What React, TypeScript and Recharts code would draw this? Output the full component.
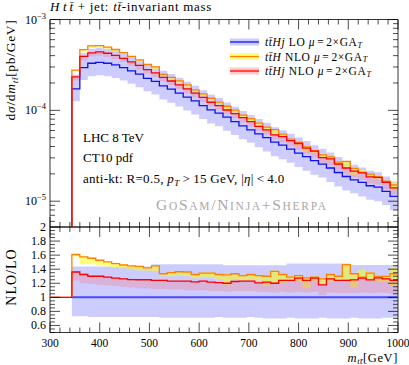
import React from "react";
import { ComposedChart, Line, Area, XAxis, YAxis, ReferenceArea } from "recharts";

const FONT = "'Liberation Serif', 'DejaVu Serif', serif";
const BLUE = "#1010f0";
const ORANGE = "#ff8000";
const RED = "#ff0000";

// plot geometry (px)
const W = 409;
const H = 365;
const LEFT = 50;
const RIGHT = 398;
const TOP1 = 19.5;
const BOT1 = 227;
const BOT2 = 332.5;

const Y_MIN = 5.2e-6;
const Y_MAX = 1e-3;

// bin edges of m_tt [GeV]
const binEdges = [
  344, 360, 376, 392, 408, 424, 440, 456, 472, 488, 504, 520, 536, 552, 568, 584, 600, 616, 632, 648,
  664, 680, 696, 712, 728, 744, 760, 776, 792, 808, 824, 840, 856, 872, 888, 904, 920, 936, 952, 968,
  984, 1000,
];

// ttHj LO, dsigma/dm [pb/GeV]
const loXsec = [
  1.72e-4, 2.96e-4, 3.3e-4, 3.38e-4, 3.3e-4, 3.16e-4, 2.96e-4, 2.72e-4, 2.5e-4, 2.25e-4,
  2.08e-4, 1.86e-4, 1.71e-4, 1.55e-4, 1.4e-4, 1.27e-4, 1.13e-4, 1.01e-4, 9.31e-5, 8.41e-5,
  7.53e-5, 6.76e-5, 6.11e-5, 5.52e-5, 5.02e-5, 4.47e-5, 4.14e-5, 3.74e-5, 3.39e-5, 3.1e-5,
  2.79e-5, 2.56e-5, 2.32e-5, 2.07e-5, 1.87e-5, 1.72e-5, 1.61e-5, 1.48e-5, 1.43e-5, 1.28e-5,
  1.13e-5,
];
const loBandLo = [
  0.73, 0.73, 0.72, 0.72, 0.72, 0.72, 0.72, 0.72, 0.72, 0.72,
  0.72, 0.71, 0.71, 0.71, 0.71, 0.71, 0.71, 0.71, 0.72, 0.71,
  0.71, 0.71, 0.72, 0.71, 0.7, 0.7, 0.7, 0.71, 0.7, 0.7,
  0.7, 0.71, 0.7, 0.7, 0.7, 0.71, 0.7, 0.7, 0.7, 0.71,
  0.71,
];
const loBandHi = [
  1.44, 1.44, 1.44, 1.44, 1.44, 1.44, 1.44, 1.44, 1.44, 1.44,
  1.47, 1.47, 1.47, 1.47, 1.47, 1.47, 1.47, 1.47, 1.47, 1.455,
  1.455, 1.455, 1.455, 1.455, 1.455, 1.455, 1.455, 1.48, 1.48, 1.48,
  1.48, 1.48, 1.48, 1.48, 1.48, 1.46, 1.46, 1.46, 1.46, 1.46,
  1.46,
];

// ttH NLO / LO
const tthRatio = [
  1.609, 1.576, 1.556, 1.527, 1.503, 1.479, 1.46, 1.446, 1.44, 1.42,
  1.446, 1.335, 1.35, 1.364, 1.36, 1.325, 1.345, 1.345, 1.325, 1.32,
  1.335, 1.31, 1.325, 1.31, 1.3, 1.37, 1.325, 1.287, 1.31, 1.278,
  1.287, 1.263, 1.325, 1.3, 1.465, 1.335, 1.287, 1.345, 1.297, 1.297,
  1.335,
];
const tthBandLo = [
  1.58, 1.47, 1.47, 1.45, 1.44, 1.42, 1.41, 1.4, 1.38, 1.38,
  1.37, 1.3, 1.3, 1.31, 1.3, 1.27, 1.28, 1.28, 1.25, 1.18,
  1.26, 1.24, 1.25, 1.24, 1.16, 1.2, 1.2, 1.23, 1.22, 1.13,
  1.22, 1.2, 1.22, 1.22, 1.26, 1.14, 1.27, 1.24, 1.22, 1.22,
  1.17,
];
const tthBandHi = [
  1.62, 1.585, 1.565, 1.535, 1.51, 1.49, 1.47, 1.455, 1.45, 1.43,
  1.455, 1.345, 1.36, 1.375, 1.37, 1.335, 1.355, 1.355, 1.335, 1.33,
  1.345, 1.32, 1.335, 1.32, 1.31, 1.38, 1.335, 1.297, 1.32, 1.29,
  1.297, 1.273, 1.335, 1.31, 1.475, 1.345, 1.39, 1.355, 1.307, 1.307,
  1.43,
];

// ttHj NLO / LO
const tthjRatio = [
  1.36, 1.325, 1.3, 1.3, 1.288, 1.273, 1.263, 1.253, 1.25, 1.25,
  1.24, 1.24, 1.23, 1.23, 1.23, 1.22, 1.23, 1.216, 1.21, 1.2,
  1.225, 1.23, 1.23, 1.206, 1.216, 1.2, 1.24, 1.24, 1.273, 1.24,
  1.273, 1.177, 1.263, 1.24, 1.24, 1.249, 1.273, 1.249, 1.278, 1.263,
  1.24,
];
const tthjBandLo = [
  1.24, 1.2, 1.19, 1.18, 1.17, 1.16, 1.15, 1.14, 1.13, 1.13,
  1.12, 1.12, 1.11, 1.11, 1.1, 1.1, 1.1, 1.09, 1.09, 1.08,
  1.09, 1.09, 1.09, 1.08, 1.08, 1.07, 1.08, 1.07, 1.08, 1.07,
  1.08, 1.03, 1.07, 1.06, 1.06, 1.06, 1.07, 1.06, 1.07, 1.06,
  1.05,
];
const tthjBandHi = [
  1.375, 1.34, 1.315, 1.315, 1.3, 1.285, 1.275, 1.265, 1.26, 1.26,
  1.25, 1.25, 1.24, 1.24, 1.24, 1.23, 1.24, 1.226, 1.22, 1.21,
  1.235, 1.24, 1.24, 1.216, 1.226, 1.21, 1.25, 1.25, 1.283, 1.25,
  1.283, 1.187, 1.273, 1.25, 1.25, 1.259, 1.283, 1.259, 1.288, 1.273,
  1.25,
];

// ticks
const xTicks = [
  300, 320, 340, 360, 380, 400, 420, 440, 460, 480, 500, 520, 540, 560, 580, 600, 620, 640, 660, 680,
  700, 720, 740, 760, 780, 800, 820, 840, 860, 880, 900, 920, 940, 960, 980, 1000,
];
const xLabels = [300, 400, 500, 600, 700, 800, 900, 1000];
const yDecades = [1e-5, 1e-4, 1e-3];
const yDecadeExp = [-5, -4, -3];
const yTicks = [
  6e-6, 7e-6, 8e-6, 9e-6, 1e-5, 2e-5, 3e-5, 4e-5, 5e-5, 6e-5, 7e-5, 8e-5, 9e-5,
  1e-4, 2e-4, 3e-4, 4e-4, 5e-4, 6e-4, 7e-4, 8e-4, 9e-4, 1e-3,
];
const rTicks = [
  0.5, 0.55, 0.6, 0.65, 0.7, 0.75, 0.8, 0.85, 0.9, 0.95, 1, 1.05, 1.1, 1.15, 1.2, 1.25, 1.3, 1.35,
  1.4, 1.45, 1.5, 1.55, 1.6, 1.65, 1.7, 1.75, 1.8, 1.85, 1.9, 1.95, 2,
];
const rLabels = [0.6, 0.8, 1, 1.2, 1.4, 1.6, 1.8, 2];

const TINY = 1e-9;
const n = loXsec.length;

const mainData: any[] = [{ x: 300, lo: TINY, tth: TINY, tthj: TINY }];
const ratioData: any[] = [{ x: 300, tth: 1, tthj: 1 }];
for (let i = 0; i <= n; i++) {
  const k = Math.min(i, n - 1);
  const lo = loXsec[k];
  mainData.push({
    x: binEdges[i],
    lo,
    tth: lo * tthRatio[k],
    tthj: lo * tthjRatio[k],
    loBand: [lo * loBandLo[k], lo * loBandHi[k]],
    tthBand: [lo * tthBandLo[k], lo * tthBandHi[k]],
    tthjBand: [lo * tthjBandLo[k], lo * tthjBandHi[k]],
  });
  ratioData.push({
    x: binEdges[i],
    lo: 1,
    tth: tthRatio[k],
    tthj: tthjRatio[k],
    loBand: [loBandLo[k], loBandHi[k]],
    tthBand: [tthBandLo[k], tthBandHi[k]],
    tthjBand: [tthjBandLo[k], tthjBandHi[k]],
  });
}

const tickStroke = { stroke: "#000", strokeWidth: 0.7 };

const makeXTick = (plotH: number, labels: boolean) => (props: any) => {
  const { x, payload } = props;
  const y = plotH > 150 ? BOT1 : BOT2;
  const v = payload.value;
  const major = xLabels.includes(v);
  const len = major ? 10 : 5;
  return (
    <g>
      <line x1={x} x2={x} y1={y} y2={y - len} {...tickStroke} />
      <line x1={x} x2={x} y1={y - plotH} y2={y - plotH + len} {...tickStroke} />
      {labels && major && (
        <text x={x} y={y + 14.5} textAnchor="middle" fontSize={11.5} fontFamily={FONT} fill="#000">
          {v}
        </text>
      )}
    </g>
  );
};

const LogYTick = (props: any) => {
  const { y, payload } = props;
  const x = LEFT;
  const idx = yDecades.findIndex((d) => Math.abs(d - payload.value) / d < 1e-6);
  const len = idx >= 0 ? 10 : 5;
  return (
    <g>
      <line x1={x} x2={x + len} y1={y} y2={y} {...tickStroke} />
      <line x1={RIGHT} x2={RIGHT - len} y1={y} y2={y} {...tickStroke} />
      {idx >= 0 && (
        <text x={x - 4} y={y + 4} textAnchor="end" fontSize={12} fontFamily={FONT} fill="#000">
          10
          <tspan dy={-5} fontSize={8.5}>
            {"\u2212" + Math.abs(yDecadeExp[idx])}
          </tspan>
        </text>
      )}
    </g>
  );
};

const RatioYTick = (props: any) => {
  const { y, payload } = props;
  const x = LEFT;
  const v = payload.value;
  const major = rLabels.some((r) => Math.abs(r - v) < 1e-6);
  const len = major ? 10 : 5;
  return (
    <g>
      <line x1={x} x2={x + len} y1={y} y2={y} {...tickStroke} />
      <line x1={RIGHT} x2={RIGHT - len} y1={y} y2={y} {...tickStroke} />
      {major && (
        <text x={x - 4} y={y + 4} textAnchor="end" fontSize={12} fontFamily={FONT} fill="#000">
          {v}
        </text>
      )}
    </g>
  );
};

const TB = "t\u0304";

const legendRows = [
  { y: 42, line: BLUE, band: "#ccccff", proc: "j", order: "LO" },
  { y: 56.5, line: ORANGE, band: "#ffff80", proc: "", order: "NLO" },
  { y: 71, line: RED, band: "#ffc8c8", proc: "j", order: "NLO" },
];

function Overlay() {
  return (
    <svg width={W} height={H} style={{ position: "absolute", left: 0, top: 0, pointerEvents: "none" }} fontFamily={FONT}>
      <text x={LEFT} y={10.5} fontSize={13} fill="#000" letterSpacing={0.7}>
        <tspan fontStyle="italic">H</tspan>
        <tspan fontStyle="italic" dx={3}>t</tspan>
        <tspan fontStyle="italic" dx={2}>{TB}</tspan>
        <tspan dx={4}>+</tspan>
        <tspan dx={4}>jet: </tspan>
        <tspan fontStyle="italic">t{TB}</tspan>
        <tspan>-invariant mass</tspan>
      </text>
      <text transform={`translate(15, ${TOP1}) rotate(-90)`} textAnchor="end" fontSize={13.5} fill="#000" letterSpacing={0.7}>
        <tspan>d</tspan>
        <tspan fontStyle="italic">σ</tspan>
        <tspan>/d</tspan>
        <tspan fontStyle="italic">m</tspan>
        <tspan fontStyle="italic" fontSize={9} dy={2.5}>
          t{TB}
        </tspan>
        <tspan dy={-2.5}>[pb/GeV]</tspan>
      </text>
      <text transform={`translate(16, 277) rotate(-90)`} textAnchor="middle" fontSize={14} fill="#000" letterSpacing={1}>
        NLO/LO
      </text>
      <text x={RIGHT} y={362} textAnchor="end" fontSize={12.5} fill="#000" letterSpacing={0.6}>
        <tspan fontStyle="italic">m</tspan>
        <tspan fontStyle="italic" fontSize={8.5} dy={2}>
          t{TB}
        </tspan>
        <tspan dy={-2}>[GeV]</tspan>
      </text>

      <text x={83} y={142} fontSize={13} fill="#000">LHC 8 TeV</text>
      <text x={83} y={161.5} fontSize={13} fill="#000">CT10 pdf</text>
      <text x={83} y={183} fontSize={13} fill="#000" letterSpacing={0.3}>
        <tspan>anti-kt: R=0.5, </tspan>
        <tspan fontStyle="italic">p</tspan>
        <tspan fontStyle="italic" fontSize={9} dy={2.5}>T</tspan>
        <tspan dy={-2.5} dx={3}>&gt;</tspan>
        <tspan dx={3}>15 GeV, |</tspan>
        <tspan fontStyle="italic">η</tspan>
        <tspan>|</tspan>
        <tspan dx={3}>&lt;</tspan>
        <tspan dx={3}>4.0</tspan>
      </text>
      <text x={156} y={210} fill="#a8a8a8" fontSize={15.5} letterSpacing={1.7}>
        <tspan>G</tspan>
        <tspan fontSize={11.5}>O</tspan>
        <tspan>S</tspan>
        <tspan fontSize={11.5}>AM</tspan>
        <tspan>/N</tspan>
        <tspan fontSize={11.5}>INJA</tspan>
        <tspan>+S</tspan>
        <tspan fontSize={11.5}>HERPA</tspan>
      </text>

      {legendRows.map((r, i) => (
        <g key={i}>
          <rect x={230} y={r.y - 3.5} width={29} height={7} fill={r.band} />
          <line x1={230} x2={259} y1={r.y} y2={r.y} stroke={r.line} strokeWidth={1.3} />
          <text x={265} y={r.y + 4} fontSize={11.5} fill="#000" letterSpacing={0.6}>
            <tspan fontStyle="italic">
              t{TB}H{r.proc}
            </tspan>
            <tspan> {r.order} </tspan>
            <tspan fontStyle="italic">μ</tspan>
            <tspan dx={2}>=</tspan>
            <tspan dx={2}>2×GA</tspan>
            <tspan fontStyle="italic" fontSize={8} dy={1.5}>
              T
            </tspan>
          </text>
        </g>
      ))}
    </svg>
  );
}

function bands() {
  return [
    <Area key="lob" dataKey="loBand" type="stepAfter" stroke="none" fill="#0000ff" fillOpacity={0.2} isAnimationActive={false} dot={false} activeDot={false} />,
    <Area key="tthb" dataKey="tthBand" type="stepAfter" stroke="none" fill="#ffff00" fillOpacity={0.5} isAnimationActive={false} dot={false} activeDot={false} />,
    <Area key="tthjb" dataKey="tthjBand" type="stepAfter" stroke="none" fill="#ff7070" fillOpacity={0.28} isAnimationActive={false} dot={false} activeDot={false} />,
  ];
}

export default function App() {
  return (
    <div style={{ position: "absolute", left: 0, top: 0, width: W, height: H, background: "#fff" }}>
      <div style={{ position: "absolute", left: 0, top: 0 }}>
        <ComposedChart width={W} height={H} data={mainData} margin={{ top: TOP1, right: W - RIGHT, bottom: H - BOT1 - 1, left: LEFT - 1 }}>
          <XAxis dataKey="x" type="number" domain={[300, 1000]} ticks={xTicks} interval={0} height={1} tickSize={0} tickMargin={0} axisLine={false} tickLine={false} tick={makeXTick(BOT1 - TOP1, false)} allowDataOverflow />
          <YAxis type="number" scale="log" domain={[Y_MIN, Y_MAX]} ticks={yTicks} interval={0} width={1} tickSize={0} tickMargin={0} axisLine={false} tickLine={false} tick={LogYTick} allowDataOverflow />
          {bands()}
          <Line dataKey="lo" type="stepAfter" stroke={BLUE} strokeWidth={1.3} dot={false} activeDot={false} isAnimationActive={false} />
          <Line dataKey="tth" type="stepAfter" stroke={ORANGE} strokeWidth={1.3} dot={false} activeDot={false} isAnimationActive={false} />
          <Line dataKey="tthj" type="stepAfter" stroke={RED} strokeWidth={1.3} dot={false} activeDot={false} isAnimationActive={false} />
          <ReferenceArea x1={300} x2={1000} y1={Y_MIN} y2={Y_MAX} fill="none" stroke="#000" strokeWidth={0.8} />
        </ComposedChart>
      </div>
      <div style={{ position: "absolute", left: 0, top: 0 }}>
        <ComposedChart width={W} height={H} data={ratioData} margin={{ top: BOT1, right: W - RIGHT, bottom: H - BOT2 - 1, left: LEFT - 1 }}>
          <XAxis dataKey="x" type="number" domain={[300, 1000]} ticks={xTicks} interval={0} height={1} tickSize={0} tickMargin={0} axisLine={false} tickLine={false} tick={makeXTick(BOT2 - BOT1, true)} allowDataOverflow />
          <YAxis type="number" domain={[0.5, 2]} ticks={rTicks} interval={0} width={1} tickSize={0} tickMargin={0} axisLine={false} tickLine={false} tick={RatioYTick} allowDataOverflow />
          {bands()}
          <Line dataKey="lo" type="stepAfter" stroke="#4848ff" strokeWidth={2} dot={false} activeDot={false} isAnimationActive={false} />
          <Line dataKey="tth" type="stepAfter" stroke={ORANGE} strokeWidth={1.3} dot={false} activeDot={false} isAnimationActive={false} />
          <Line dataKey="tthj" type="stepAfter" stroke={RED} strokeWidth={1.3} dot={false} activeDot={false} isAnimationActive={false} />
          <ReferenceArea x1={300} x2={1000} y1={0.5} y2={2} fill="none" stroke="#000" strokeWidth={0.8} />
        </ComposedChart>
      </div>
      <Overlay />
    </div>
  );
}
